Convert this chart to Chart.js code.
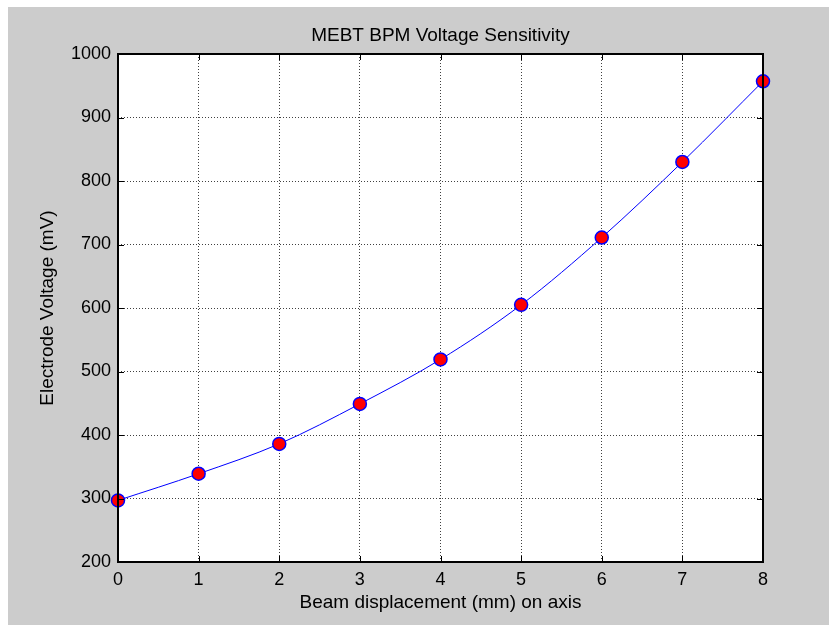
<!DOCTYPE html>
<html>
<head>
<meta charset="utf-8">
<script src="https://cdn.jsdelivr.net/npm/chart.js@4/dist/chart.umd.min.js"></script>
<style>
  html, body { margin: 0; padding: 0; background: #fff; }
  #frame { position: absolute; left: 8px; top: 7px; width: 821px; height: 618px; background: #cccccc; }
  canvas { display: block; }
</style>
</head>
<body>
<div id="frame"><canvas id="chart" width="821" height="618"></canvas></div>
<script>
const displacement = [0, 1, 2, 3, 4, 5, 6, 7, 8];
const voltage = [297, 339, 386, 449, 519, 605, 711, 830, 957];
const xTicks = [0, 1, 2, 3, 4, 5, 6, 7, 8];
const yTicks = [200, 300, 400, 500, 600, 700, 800, 900, 1000];

const FONT = 'Liberation Sans, Arial, Helvetica, sans-serif';

// MATLAB-ish frame: white plot box, black border, inward ticks on all sides, title
const matlabAxes = {
  id: 'matlabAxes',
  beforeDraw(chart) {
    const { ctx, chartArea: a } = chart;
    ctx.save();
    ctx.fillStyle = '#fff';
    ctx.fillRect(a.left, a.top, a.right - a.left, a.bottom - a.top);
    ctx.restore();
  },
  afterDatasetsDraw(chart) {
    const { ctx, chartArea: a, scales } = chart;
    ctx.save();
    ctx.strokeStyle = '#000';
    ctx.lineWidth = 1;
    const len = 6;
    ctx.beginPath();
    xTicks.forEach(v => {
      const x = Math.round(scales.x.getPixelForValue(v)) + 0.5;
      ctx.moveTo(x, a.bottom); ctx.lineTo(x, a.bottom - len);
      ctx.moveTo(x, a.top); ctx.lineTo(x, a.top + len);
    });
    yTicks.forEach(v => {
      const y = Math.round(scales.y.getPixelForValue(v)) + 0.5;
      ctx.moveTo(a.left, y); ctx.lineTo(a.left + len, y);
      ctx.moveTo(a.right, y); ctx.lineTo(a.right - len, y);
    });
    ctx.stroke();
    ctx.lineWidth = 2;
    ctx.strokeRect(a.left, a.top, a.right - a.left, a.bottom - a.top);

    ctx.fillStyle = '#000';
    ctx.font = '19px ' + FONT;
    ctx.textAlign = 'center';
    ctx.textBaseline = 'middle';
    ctx.fillText('MEBT BPM Voltage Sensitivity', (a.left + a.right) / 2, a.top - 18);
    ctx.restore();
  }
};

new Chart(document.getElementById('chart'), {
  type: 'line',
  data: {
    labels: displacement,
    datasets: [{
      data: displacement.map((x, i) => ({ x, y: voltage[i] })),
      borderColor: '#0000ff',
      borderWidth: 1,
      cubicInterpolationMode: 'monotone',
      pointRadius: 6.5,
      pointBorderWidth: 1.5,
      pointBackgroundColor: '#ff0000',
      pointBorderColor: '#0000ff',
      clip: false,
      fill: false
    }]
  },
  options: {
    responsive: false,
    animation: false,
    layout: { padding: { left: 0, right: 66, top: 47, bottom: 0 } },
    plugins: { legend: { display: false }, tooltip: { enabled: false }, title: { display: false } },
    scales: {
      x: {
        type: 'linear',
        min: 0, max: 8,
        afterFit: s => { s.height = 63; },
        afterBuildTicks: s => { s.ticks = xTicks.map(v => ({ value: v })); },
        grid: { color: 'rgba(0,0,0,0.75)', drawTicks: false },
        border: { display: false, dash: [1, 2] },
        ticks: { color: '#000', font: { family: FONT, size: 18 }, padding: 7, maxRotation: 0,
                 callback: v => String(v) },
        title: { display: true, text: 'Beam displacement (mm) on axis', color: '#000',
                 font: { family: FONT, size: 19 }, padding: { top: 0, bottom: 10.5 } }
      },
      y: {
        min: 200, max: 1000,
        afterFit: s => { s.width = 110; },
        afterBuildTicks: s => { s.ticks = yTicks.map(v => ({ value: v })); },
        grid: { color: 'rgba(0,0,0,0.75)', drawTicks: false },
        border: { display: false, dash: [1, 2] },
        ticks: { color: '#000', font: { family: FONT, size: 18 }, padding: 7,
                 callback: v => String(v) },
        title: { display: true, text: 'Electrode Voltage (mV)', color: '#000',
                 font: { family: FONT, size: 19 }, padding: { top: 28.5, bottom: 0 } }
      }
    }
  },
  plugins: [matlabAxes]
});
</script>
</body>
</html>
